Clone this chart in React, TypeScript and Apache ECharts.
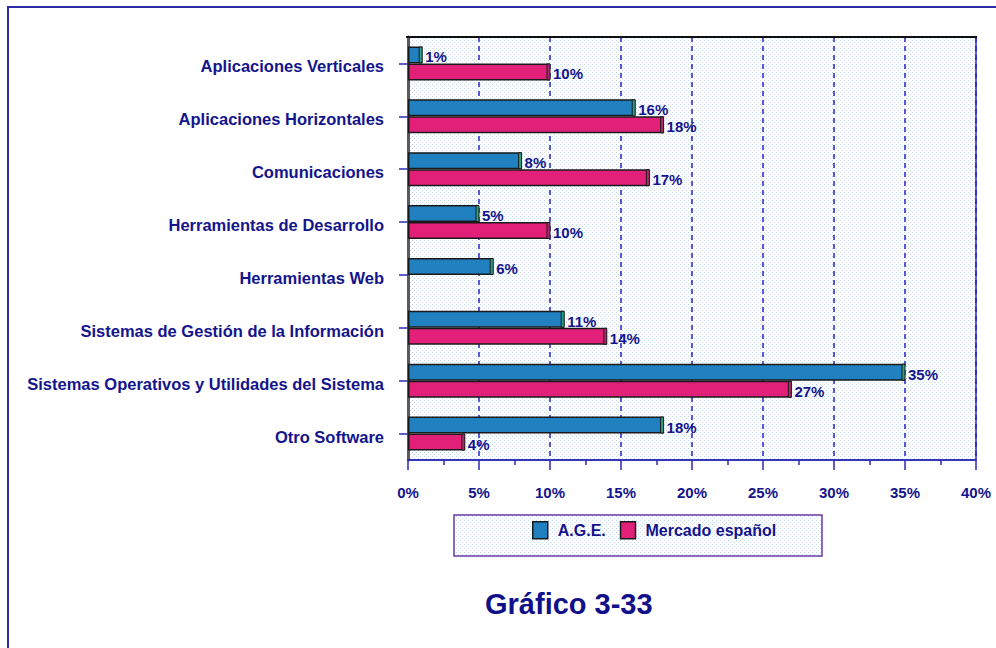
import React, { useEffect, useRef } from 'react';
import * as echarts from 'echarts';

const categories = [
  'Aplicaciones Verticales',
  'Aplicaciones Horizontales',
  'Comunicaciones',
  'Herramientas de Desarrollo',
  'Herramientas Web',
  'Sistemas de Gestión de la Información',
  'Sistemas Operativos y Utilidades del Sistema',
  'Otro Software',
];
const seriesNames = ['A.G.E.', 'Mercado español'];
const ageValues = [1, 16, 8, 5, 6, 11, 35, 18];
const mercadoValues: (number | null)[] = [10, 18, 17, 10, null, 14, 27, 4];
const titleText = 'Gráfico 3-33';

const NAVY = '#14148c';
const FONT = '"Liberation Sans", Arial, sans-serif';
const BAR_W = 17;

function makePattern() {
  const c = document.createElement('canvas');
  c.width = 4;
  c.height = 4;
  const ctx = c.getContext('2d')!;
  ctx.fillStyle = '#ffffff';
  ctx.fillRect(0, 0, 4, 4);
  ctx.fillStyle = '#c4d8f4';
  ctx.fillRect(0, 0, 1, 1);
  ctx.fillRect(2, 2, 1, 1);
  return { image: c, repeat: 'repeat' as const };
}

function capSeries(values: (number | null)[], side: number, color: string) {
  return {
    type: 'custom',
    z: 5,
    silent: true,
    data: values
      .map((v, i) => (v == null ? null : [v, i]))
      .filter((d) => d != null),
    renderItem: (_params: any, api: any) => {
      const end = api.coord([api.value(0), api.value(1)]);
      const y = side < 0 ? end[1] - BAR_W : end[1];
      return {
        type: 'rect',
        shape: { x: end[0] - 3, y: y + 0.5, width: 3, height: BAR_W - 1 },
        style: { fill: color, stroke: '#1a1a1a', lineWidth: 1 },
      };
    },
  };
}

export default function App() {
  const ref = useRef<HTMLDivElement>(null);
  useEffect(() => {
    if (!ref.current) return;
    const chart = echarts.init(ref.current, undefined, { renderer: 'svg' });
    const pattern = makePattern();
    const labelStyle = {
      show: true,
      position: 'right' as const,
      distance: 3,
      offset: [0, 2],
      formatter: '{c}%',
      color: NAVY,
      fontWeight: 'bold' as const,
      fontSize: 15,
      fontFamily: FONT,
    };
    chart.setOption({
      animation: false,
      backgroundColor: '#ffffff',
      textStyle: { fontFamily: FONT },
      grid: {
        left: 408,
        right: 20,
        top: 37,
        bottom: 188,
        show: true,
        backgroundColor: pattern,
        borderColor: '#2a2ab4',
        borderWidth: 1.5,
      },
      xAxis: {
        type: 'value',
        min: 0,
        max: 40,
        interval: 5,
        axisLine: { show: true, lineStyle: { color: '#2a2ab4', width: 1.5 } },
        axisTick: { show: true, length: 10, lineStyle: { color: '#2a2ab4', width: 1.5 } },
        minorTick: { show: true, splitNumber: 2, length: 5, lineStyle: { color: '#2a2ab4', width: 1.5 } },
        splitLine: { show: true, lineStyle: { color: '#2424c8', width: 1.5, type: [5, 4] } },
        axisLabel: {
          formatter: '{value}%',
          color: NAVY,
          fontWeight: 'bold',
          fontSize: 15,
          fontFamily: FONT,
          margin: 25,
        },
      },
      yAxis: {
        type: 'category',
        data: categories,
        inverse: true,
        axisLine: { show: true, lineStyle: { color: '#5a5a5a', width: 3 } },
        axisTick: { show: true, alignWithLabel: true, length: 9, lineStyle: { color: '#2a2ab4', width: 1.5 } },
        axisLabel: {
          margin: 24,
          formatter: '{a|{value}}',
          rich: {
            a: {
              color: NAVY,
              fontWeight: 'bold',
              fontSize: 16.5,
              fontFamily: FONT,
              padding: [6, 0, 0, 0],
            },
          },
        },
      },
      legend: {
        left: 527,
        top: 516,
        icon: 'rect',
        itemWidth: 15,
        itemHeight: 17,
        itemGap: 14,
        itemStyle: { borderColor: '#1a1a1a', borderWidth: 1.5 },
        textStyle: { color: NAVY, fontWeight: 'bold', fontSize: 16, fontFamily: FONT, padding: [0, 0, 0, 5] },
        data: seriesNames,
      },
      graphic: [
        {
          type: 'rect',
          z: -10,
          shape: { x: 8, y: 7, width: 1100, height: 800 },
          style: { fill: 'none', stroke: '#2c2ca8', lineWidth: 2 },
        },
        {
          type: 'rect',
          z: -5,
          shape: { x: 454, y: 515, width: 368, height: 41 },
          style: { fill: pattern as any, stroke: '#6a3aaa', lineWidth: 1.5 },
        },
        {
          type: 'line',
          z: 50,
          shape: { x1: 406, y1: 37, x2: 977, y2: 37 },
          style: { stroke: '#111111', lineWidth: 2 },
        },
        {
          type: 'text',
          left: 485,
          top: 589,
          style: {
            text: titleText,
            fill: '#10108a',
            font: `bold 29px ${FONT}`,
          },
        },
      ],
      series: [
        {
          name: seriesNames[0],
          type: 'bar',
          data: ageValues,
          barWidth: BAR_W,
          barGap: '0%',
          itemStyle: { color: '#2080c0', borderColor: '#1a1a1a', borderWidth: 1.5 },
          label: labelStyle,
        },
        {
          name: seriesNames[1],
          type: 'bar',
          data: mercadoValues,
          barWidth: BAR_W,
          barGap: '0%',
          itemStyle: { color: '#e2207a', borderColor: '#1a1a1a', borderWidth: 1.5 },
          label: labelStyle,
        },
        capSeries(ageValues, -1, '#2aa088'),
        capSeries(mercadoValues, 1, '#b02a6a'),
      ],
    });
    return () => chart.dispose();
  }, []);
  return (
    <div
      ref={ref}
      style={{ position: 'fixed', left: 0, top: 0, width: 996, height: 648 }}
    />
  );
}
